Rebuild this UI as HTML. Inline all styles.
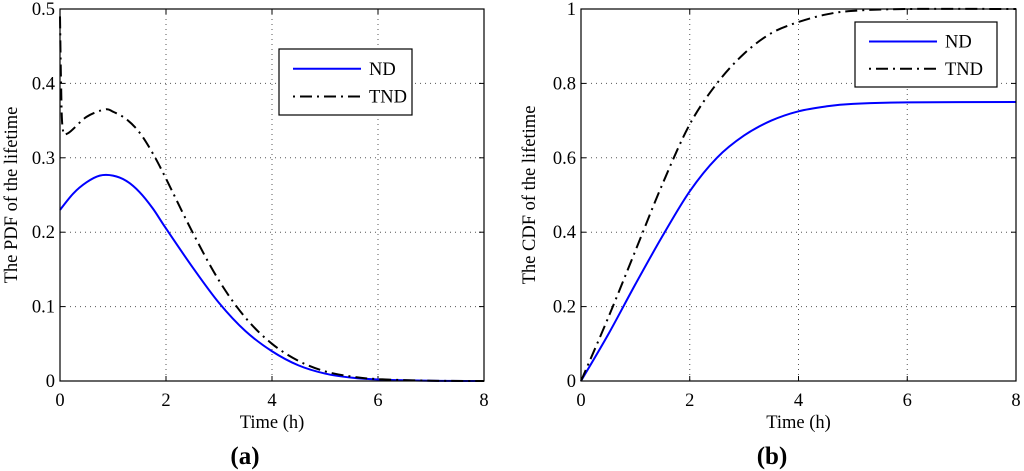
<!DOCTYPE html>
<html><head><meta charset="utf-8"><style>
html,body{margin:0;padding:0;background:#fff;}
svg{display:block;font-family:"Liberation Serif",serif;}
</style></head><body>
<svg id="fig" width="1024" height="471" viewBox="0 0 1024 471">
</svg>
<script>
// Panel (a) PDF data
const pdfT = [0,0.25,0.5,0.75,1,1.25,1.5,1.75,2,2.5,3,3.5,4,4.5,5,5.5,6,7,8];
const pdfND = [0.23,0.252,0.267,0.276,0.276,0.269,0.254,0.232,0.205,0.153,0.105,0.067,0.04,0.021,0.01,0.0045,0.002,0.0003,0];
const pdfTT = [0,0.02,0.05,0.15,0.5,0.85,1,1.25,1.5,1.75,2,2.5,3,3.5,4,4.5,5,5.5,6,7,8];
const pdfTND = [0.49,0.4,0.34,0.333,0.355,0.365,0.362,0.352,0.334,0.306,0.272,0.2,0.135,0.085,0.05,0.027,0.013,0.006,0.0025,0.0004,0];
// Panel (b) CDF data
const cdfT = [0,0.5,1,1.5,2,2.5,3,3.5,4,4.5,5,6,8];
const cdfND = [0,0.125,0.26,0.39,0.51,0.6,0.66,0.7,0.725,0.738,0.745,0.749,0.75];
const cdfTND = [0,0.17,0.35,0.53,0.69,0.8,0.88,0.935,0.965,0.985,0.995,1,1];
const xTicks = [0,2,4,6,8];
const pdfYTicks = [0,0.1,0.2,0.3,0.4,0.5];
const pdfYLabels = ["0","0.1","0.2","0.3","0.4","0.5"];
const cdfYTicks = [0,0.2,0.4,0.6,0.8,1];
const cdfYLabels = ["0","0.2","0.4","0.6","0.8","1"];

const NS="http://www.w3.org/2000/svg";
const svg=document.getElementById('fig');
function mk(tag,attrs,parent){const e=document.createElementNS(NS,tag);for(const k in attrs)e.setAttribute(k,attrs[k]);(parent||svg).appendChild(e);return e;}
function smooth(pts){let d=`M${pts[0][0]},${pts[0][1]}`;for(let i=0;i<pts.length-1;i++){const p0=pts[i-1]||pts[i],p1=pts[i],p2=pts[i+1],p3=pts[i+2]||p2;const c1=[p1[0]+(p2[0]-p0[0])/6,p1[1]+(p2[1]-p0[1])/6],c2=[p2[0]-(p3[0]-p1[0])/6,p2[1]-(p3[1]-p1[1])/6];d+=` C${c1[0]},${c1[1]} ${c2[0]},${c2[1]} ${p2[0]},${p2[1]}`;}return d;}

function panel(o){
  const g=mk('g',{});
  
  
  const X=v=>o.x0+(v-0)/8*(o.x1-o.x0);
  const Y=v=>o.y0-(v-o.ymin)/(o.ymax-o.ymin)*(o.y0-o.y1);
  xTicks.forEach(t=>{
    if(t>0&&t<8){const l=mk('line',{x1:X(t),x2:X(t),y1:o.y1,y2:o.y0,stroke:'#555','stroke-width':1,'stroke-dasharray':'1 4'},g);
      }
    mk('line',{x1:X(t),x2:X(t),y1:o.y0,y2:o.y0-5,stroke:'#000'},g);
    mk('line',{x1:X(t),x2:X(t),y1:o.y1,y2:o.y1+5,stroke:'#000'},g);
    const tx=mk('text',{x:X(t),y:o.y0+25,'text-anchor':'middle','font-size':18.5},g);tx.textContent=t;
    
  });
  o.yt.forEach((t,i)=>{
    if(i>0&&i<o.yt.length-1){const l=mk('line',{x1:o.x0,x2:o.x1,y1:Y(t),y2:Y(t),stroke:'#555','stroke-width':1,'stroke-dasharray':'1 4'},g);
      }
    mk('line',{x1:o.x0,x2:o.x0+5,y1:Y(t),y2:Y(t),stroke:'#000'},g);
    mk('line',{x1:o.x1,x2:o.x1-5,y1:Y(t),y2:Y(t),stroke:'#000'},g);
    const tx=mk('text',{x:o.x0-5,y:Y(t)+6,'text-anchor':'end','font-size':18.5},g);tx.textContent=o.yl[i];
    
  });
  const s1=mk('path',{d:smooth(o.t1.map((t,i)=>[X(t),Y(o.v1[i])])),fill:'none',stroke:'#0000ff','stroke-width':2},g);
  
  const s2=mk('path',{d:smooth(o.t2.map((t,i)=>[X(t),Y(o.v2[i])])),fill:'none',stroke:'#000','stroke-width':2,'stroke-dasharray':'12 5 2 5'},g);
  
  const fr=mk('rect',{x:o.x0,y:o.y1,width:o.x1-o.x0,height:o.y0-o.y1,fill:'none',stroke:'#000','stroke-width':1.2},g);
  
  const L=o.leg;
  const lg=mk('g',{},g);
  
  mk('rect',{x:L.x,y:L.y,width:L.w,height:L.h,fill:'#fff',stroke:'#000','stroke-width':1.2},lg);
  const e1=mk('g',{},lg);
  mk('line',{x1:L.x+14,x2:L.x+82,y1:L.y+L.h*0.3,y2:L.y+L.h*0.3,stroke:'#0000ff','stroke-width':2},e1);
  let t=mk('text',{x:L.x+90,y:L.y+L.h*0.3+6,'font-size':18.5},e1);t.textContent='ND';
  const e2=mk('g',{},lg);
  mk('line',{x1:L.x+14,x2:L.x+82,y1:L.y+L.h*0.72,y2:L.y+L.h*0.72,stroke:'#000','stroke-width':2,'stroke-dasharray':'2 5 12 5'},e2);
  t=mk('text',{x:L.x+90,y:L.y+L.h*0.72+6,'font-size':18.5},e2);t.textContent='TND';
  const xt=mk('text',{x:(o.x0+o.x1)/2,y:428,'text-anchor':'middle','font-size':18.5},g);xt.textContent='Time (h)';
  
  const yt=mk('text',{x:0,y:0,'text-anchor':'middle','font-size':18.5,transform:`translate(${o.ytx},${(o.y0+o.y1)/2}) rotate(-90)`},g);yt.textContent=o.ytitle;
  
  const pl=mk('text',{x:o.labx,y:464,'text-anchor':'middle','font-size':25,'font-weight':'bold'},g);
  pl.textContent='('+o.lab+')';
  
}
panel({name:'pdf-panel',x0:60,x1:484,y0:381,y1:9,ymin:0,ymax:0.5,yt:pdfYTicks,yl:pdfYLabels,
  t1:pdfT,v1:pdfND,t2:pdfTT,v2:pdfTND,leg:{x:279,y:49,w:133,h:66},ytitle:'The PDF of the lifetime',ytx:17,lab:'a',labx:245});
panel({name:'cdf-panel',x0:581,x1:1016,y0:381,y1:9,ymin:0,ymax:1,yt:cdfYTicks,yl:cdfYLabels,
  t1:cdfT,v1:cdfND,t2:cdfT,v2:cdfTND,leg:{x:855,y:22,w:142,h:65},ytitle:'The CDF of the lifetime',ytx:535,lab:'b',labx:772});
</script>
</body></html>
